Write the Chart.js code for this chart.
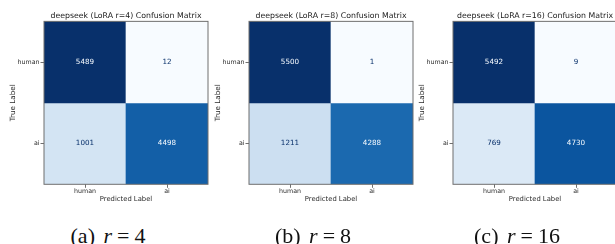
<!DOCTYPE html>
<html>
<head>
<meta charset="utf-8">
<script src="https://cdn.jsdelivr.net/npm/chart.js@4.4.1/dist/chart.umd.min.js"></script>
<style>
  body { margin: 0; background: #fff; width: 615px; height: 244px; overflow: hidden; position: relative; }
  .panel { position: absolute; top: 0; }
  .caption {
    position: absolute; top: 224.5px; white-space: nowrap; transform: translateX(-50%);
    font-family: "Liberation Serif", "Times New Roman", serif; font-size: 22px; line-height: 22px; color: #111;
  }
  .caption i { margin-left: 3px; }
  .caption .eq { margin: 0 5px; }
</style>
</head>
<body>
<canvas id="cm0" class="panel" width="215" height="210" style="left:0px"></canvas>
<canvas id="cm1" class="panel" width="215" height="210" style="left:205px"></canvas>
<canvas id="cm2" class="panel" width="215" height="210" style="left:409px"></canvas>
<div class="caption" style="left:108px">(a) <i>r</i><span class="eq">=</span>4</div>
<div class="caption" style="left:313px">(b) <i>r</i><span class="eq">=</span>8</div>
<div class="caption" style="left:517px">(c) <i>r</i><span class="eq">=</span>16</div>
<script>
// SECTION: data
const classLabels = ['human', 'ai'];
const loraRanks = [4, 8, 16];
const matrixR4 = [[5489, 12], [1001, 4498]];
const matrixR8 = [[5500, 1], [1211, 4288]];
const matrixR16 = [[5492, 9], [769, 4730]];
const matrices = [matrixR4, matrixR8, matrixR16];

// matplotlib "Blues" anchors
const blues = ['#f7fbff', '#deebf7', '#c6dbef', '#9ecae1', '#6baed6', '#4292c6', '#2171b5', '#08519c', '#08306b'];

const hexToRgb = (hex) => [1, 3, 5].map((i) => parseInt(hex.slice(i, i + 2), 16));

const bluesAt = (t) => {
  const pos = Math.min(Math.max(t, 0), 1) * (blues.length - 1);
  const i = Math.min(Math.floor(pos), blues.length - 2);
  const f = pos - i;
  const a = hexToRgb(blues[i]);
  const b = hexToRgb(blues[i + 1]);
  const c = a.map((v, k) => Math.round(v + (b[k] - v) * f));
  return `rgb(${c[0]}, ${c[1]}, ${c[2]})`;
};

const axisColor = '#6f6f6f';
const textColor = '#2a2a2a';

// draw counts in the cells + the frame round the plot
const cellText = {
  id: 'cellText',
  afterDatasetsDraw(chart) {
    const { ctx, chartArea } = chart;
    const norm = chart.options.plugins.cellText;
    ctx.save();
    ctx.font = '7.2px "DejaVu Sans"';
    ctx.textAlign = 'center';
    ctx.textBaseline = 'middle';
    chart.data.datasets.forEach((ds, di) => {
      chart.getDatasetMeta(di).data.forEach((bar, j) => {
        const v = ds.counts[j];
        const t = (v - norm.min) / (norm.max - norm.min);
        ctx.fillStyle = t < 0.5 ? bluesAt(1) : bluesAt(0);
        ctx.fillText(String(v), bar.x, (bar.y + bar.base) / 2);
      });
    });
    ctx.strokeStyle = axisColor;
    ctx.lineWidth = 1;
    ctx.strokeRect(chartArea.left, chartArea.top, chartArea.right - chartArea.left, chartArea.bottom - chartArea.top);
    ctx.restore();
  }
};

const renderMatrix = (canvas, matrix, rank) => {
  const flat = matrix.flat();
  const min = Math.min(...flat);
  const max = Math.max(...flat);
  const n = classLabels.length;

  const datasets = matrix.map((row, r) => ({
    label: classLabels[r],
    counts: row,
    data: row.map(() => [n - 1 - r, n - r]),
    backgroundColor: row.map((v) => bluesAt((v - min) / (max - min))),
    borderWidth: 0,
    grouped: false,
    barPercentage: 1,
    categoryPercentage: 1
  }));

  new Chart(canvas.getContext('2d'), {
    type: 'bar',
    data: { labels: classLabels, datasets },
    plugins: [cellText],
    options: {
      responsive: false,
      animation: false,
      devicePixelRatio: 1,
      layout: { padding: { left: 0, right: 7, top: 0, bottom: 0 } },
      scales: {
        x: {
          type: 'category',
          offset: true,
          grid: { display: true, offset: false, drawOnChartArea: false, drawTicks: true, tickLength: 3.5, color: axisColor },
          border: { display: false },
          ticks: { color: textColor, font: { family: 'DejaVu Sans', size: 6.3 }, padding: 0, maxRotation: 0 },
          title: { display: true, text: 'Predicted Label', color: textColor, font: { family: 'DejaVu Sans', size: 6.8 }, padding: { top: 0, bottom: 7 } },
          afterFit: (scale) => { scale.height = 25.7; }
        },
        y: {
          type: 'linear',
          min: 0,
          max: n,
          afterBuildTicks: (scale) => {
            scale.ticks = classLabels.map((_, r) => ({ value: n - r - 0.5 }));
          },
          grid: { display: true, drawOnChartArea: false, drawTicks: true, tickLength: 3.5, color: axisColor },
          border: { display: false },
          ticks: {
            color: textColor,
            font: { family: 'DejaVu Sans', size: 6.3 },
            padding: 1,
            callback: (value) => classLabels[n - 1 - Math.floor(value)]
          },
          title: { display: true, text: 'True Label', color: textColor, font: { family: 'DejaVu Sans', size: 7.2 }, padding: { top: 8.5, bottom: 0 } },
          afterFit: (scale) => { scale.width = 44; }
        }
      },
      plugins: {
        legend: { display: false },
        tooltip: { enabled: false },
        cellText: { min, max },
        title: {
          display: true,
          fullSize: false,
          text: `deepseek (LoRA r=${rank}) Confusion Matrix`,
          color: '#1a1a1a',
          font: { family: 'DejaVu Sans', size: 7.8, weight: 'normal' },
          padding: { top: 11, bottom: 1 }
        }
      }
    }
  });
};

matrices.forEach((matrix, i) => {
  renderMatrix(document.getElementById(`cm${i}`), matrix, loraRanks[i]);
});
</script>
</body>
</html>
